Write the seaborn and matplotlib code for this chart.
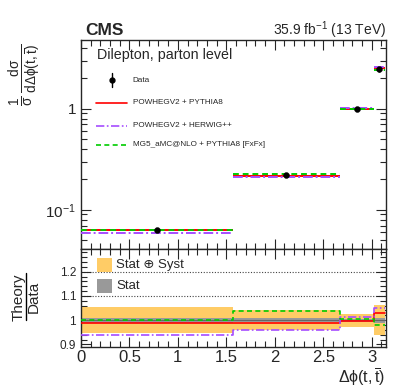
import numpy as np
import matplotlib
matplotlib.use("Agg")
import matplotlib.pyplot as plt
import seaborn as sns
import pandas as pd
from matplotlib.ticker import FixedLocator, MultipleLocator, NullFormatter, FixedFormatter, LogLocator
from matplotlib.patches import Rectangle
from matplotlib.lines import Line2D

# ---------------- data ----------------
edges = [0.0, 1.5708, 2.67, 3.02, 3.1416]
data_vals = [0.0634, 0.219, 1.0, 2.47]
data_err = [0.0034, 0.009, 0.027, 0.14]

pp8_vals = [0.0628, 0.217, 0.997, 2.54]
phw_vals = [0.0596, 0.210, 1.011, 2.60]
mg5_vals = [0.0634, 0.227, 1.005, 2.42]

ratio_pp8 = [0.990, 0.990, 0.997, 1.030]
ratio_phw = [0.940, 0.960, 1.011, 1.052]
ratio_mg5 = [1.000, 1.038, 1.005, 0.981]
tot_unc = [0.054, 0.042, 0.027, 0.063]
stat_unc = [0.010, 0.008, 0.006, 0.010]

model_names = ["POWHEGV2 + PYTHIA8", "POWHEGV2 + HERWIG++", "MG5_aMC@NLO + PYTHIA8 [FxFx]"]
model_colors = ["#FF0000", "#A64DFF", "#00CC00"]
model_styles = ["-", (0, (5, 1.5, 1, 1.5)), (0, (3, 2))]

sns.set_style("ticks")
plt.rcParams['font.family'] = ['Liberation Sans', 'DejaVu Sans']
plt.rcParams['mathtext.fontset'] = 'custom'
plt.rcParams['mathtext.rm'] = 'Liberation Sans'
plt.rcParams['mathtext.it'] = 'Liberation Sans'
plt.rcParams['mathtext.bf'] = 'Liberation Sans:bold'
plt.rcParams['mathtext.sf'] = 'Liberation Sans'

fig = plt.figure(figsize=(4.07, 3.91), dpi=100)
ax = fig.add_axes([0.199, 0.3632, 0.749, 0.5345])
rax = fig.add_axes([0.199, 0.1125, 0.749, 0.2507])

edges_a = np.array(edges)
centers = 0.5 * (edges_a[:-1] + edges_a[1:])
lefts = edges_a[:-1]
rights = edges_a[1:]
widths = rights - lefts

# ---------------- upper panel ----------------
for vals, c, ls in zip([pp8_vals, phw_vals, mg5_vals], model_colors, model_styles):
    ax.hlines(vals, lefts, rights, colors=c, linestyles=[ls], linewidth=1.4, zorder=3)

df_data = pd.DataFrame({"x": centers, "y": data_vals})
ax.errorbar(centers, data_vals, yerr=data_err, fmt='none', ecolor='black', elinewidth=1.0, zorder=4)
sns.scatterplot(data=df_data, x="x", y="y", ax=ax, color='black', s=18, edgecolor='black', zorder=5, legend=False)

ax.set_yscale('log')
ax.set_xlim(0, np.pi + 0.005)
ax.set_ylim(0.041, 4.8)
ax.set_xlabel("")
ax.set_ylabel("")
ax.yaxis.set_major_locator(FixedLocator([0.1, 1.0]))
ax.yaxis.set_major_formatter(FixedFormatter(["$10^{-1}$", "1"]))
ax.yaxis.set_minor_locator(LogLocator(base=10, subs=np.arange(2, 10)))
ax.yaxis.set_minor_formatter(NullFormatter())
ax.xaxis.set_major_locator(MultipleLocator(0.5))
ax.xaxis.set_minor_locator(MultipleLocator(0.1))
ax.tick_params(axis='x', labelbottom=False)
ax.tick_params(which='both', direction='in', top=True, right=True, labelsize=11)
ax.tick_params(which='major', length=7, width=0.8)
ax.tick_params(which='minor', length=4, width=0.8)
for s in ax.spines.values():
    s.set_linewidth(1.0)

# legend (upper)
T = ax.transAxes
ax.text(0.052, 0.928, "Dilepton, parton level", transform=T, fontsize=10.3, va='center', ha='left')
ax.plot([0.102], [0.809], transform=T, marker='o', color='black', markersize=3.5, clip_on=False)
ax.plot([0.102, 0.102], [0.775, 0.843], transform=T, color='black', lw=1.0)
ax.text(0.170, 0.805, "Data", transform=T, fontsize=5.9, va='center', ha='left')
ys = [0.699, 0.589, 0.498]
for y, name, c, ls in zip(ys, model_names, model_colors, model_styles):
    ax.add_line(Line2D([0.049, 0.151], [y, y], transform=T, color=c, linestyle=ls, lw=1.2))
    ax.text(0.170, y, name, transform=T, fontsize=5.9, va='center', ha='left')

# ---------------- ratio panel ----------------
rax.bar(lefts, [2 * u for u in tot_unc], bottom=[1 - u for u in tot_unc], width=widths,
        align='edge', color='#FFCC66', edgecolor='none', zorder=1)
rax.bar(lefts, [2 * u for u in stat_unc], bottom=[1 - u for u in stat_unc], width=widths,
        align='edge', color='#999999', edgecolor='none', zorder=2)
rax.axhline(1.0, color='#666666', lw=0.8, zorder=2)
for gy in [1.1, 1.2]:
    rax.axhline(gy, color='#444444', lw=0.8, linestyle=(0, (1, 1.5)), zorder=0.5)

for vals, c, ls, name in zip([ratio_pp8, ratio_phw, ratio_mg5], model_colors, model_styles, model_names):
    df = pd.DataFrame({"x": edges, "y": vals + [vals[-1]]})
    sns.lineplot(data=df, x="x", y="y", ax=rax, color=c, linestyle=ls, lw=1.2,
                 drawstyle='steps-post', sort=False, estimator=None, legend=False, zorder=3)

rax.set_xlim(0, np.pi + 0.005)
rax.set_ylim(0.889, 1.294)
rax.set_xlabel("")
rax.set_ylabel("")
rax.yaxis.set_major_locator(FixedLocator([0.9, 1.0, 1.1, 1.2]))
rax.yaxis.set_major_formatter(FixedFormatter(["0.9", "1", "1.1", "1.2"]))
rax.yaxis.set_minor_locator(MultipleLocator(0.02))
rax.xaxis.set_major_locator(FixedLocator([0, 0.5, 1, 1.5, 2, 2.5, 3]))
rax.xaxis.set_major_formatter(FixedFormatter(["0", "0.5", "1", "1.5", "2", "2.5", "3"]))
rax.xaxis.set_minor_locator(MultipleLocator(0.1))
rax.tick_params(which='both', direction='in', top=True, right=True)
rax.tick_params(axis='y', labelsize=8.5)
rax.tick_params(axis='x', labelsize=12, pad=2)
rax.tick_params(which='major', length=7, width=0.8)
rax.tick_params(which='minor', length=4, width=0.8)
for s in rax.spines.values():
    s.set_linewidth(1.0)

RT = rax.transAxes
rax.add_patch(Rectangle((0.052, 0.765), 0.050, 0.143, transform=RT, facecolor='#FFCC66', edgecolor='none', zorder=5))
rax.text(0.115, 0.837, "Stat \u2295 Syst", transform=RT, fontsize=9.5, va='center', ha='left', zorder=6,
         family=['Liberation Sans', 'DejaVu Sans'])
rax.add_patch(Rectangle((0.052, 0.551), 0.050, 0.143, transform=RT, facecolor='#999999', edgecolor='none', zorder=5))
rax.text(0.115, 0.622, "Stat", transform=RT, fontsize=9.5, va='center', ha='left', zorder=6)

# ---------------- labels ----------------
fig.text(0.061, 0.808, r"$\frac{1}{\sigma}\,\frac{d\sigma}{d\Delta\phi(t,\overline{t})}$", rotation=90,
         ha='center', va='center', fontsize=14)
# Theory / Data fraction
fig.text(0.0455, 0.2404, "Theory", rotation=90, ha='center', va='center', fontsize=11)
fig.text(0.0835, 0.2404, "Data", rotation=90, ha='center', va='center', fontsize=11)
fig.add_artist(Line2D([0.064, 0.064], [0.182, 0.302], transform=fig.transFigure, color='black', lw=1.0))

fig.text(0.948, 0.008, r"$\Delta\phi(t,\overline{t})$", ha='right', va='bottom', fontsize=11.5)
fig.text(0.209, 0.923, "CMS", fontsize=12.5, fontweight='bold', ha='left', va='center')
fig.text(0.948, 0.923, r"35.9 fb$^{-1}$ (13 TeV)", fontsize=10, ha='right', va='center')

fig.savefig("out.png", dpi=100)
